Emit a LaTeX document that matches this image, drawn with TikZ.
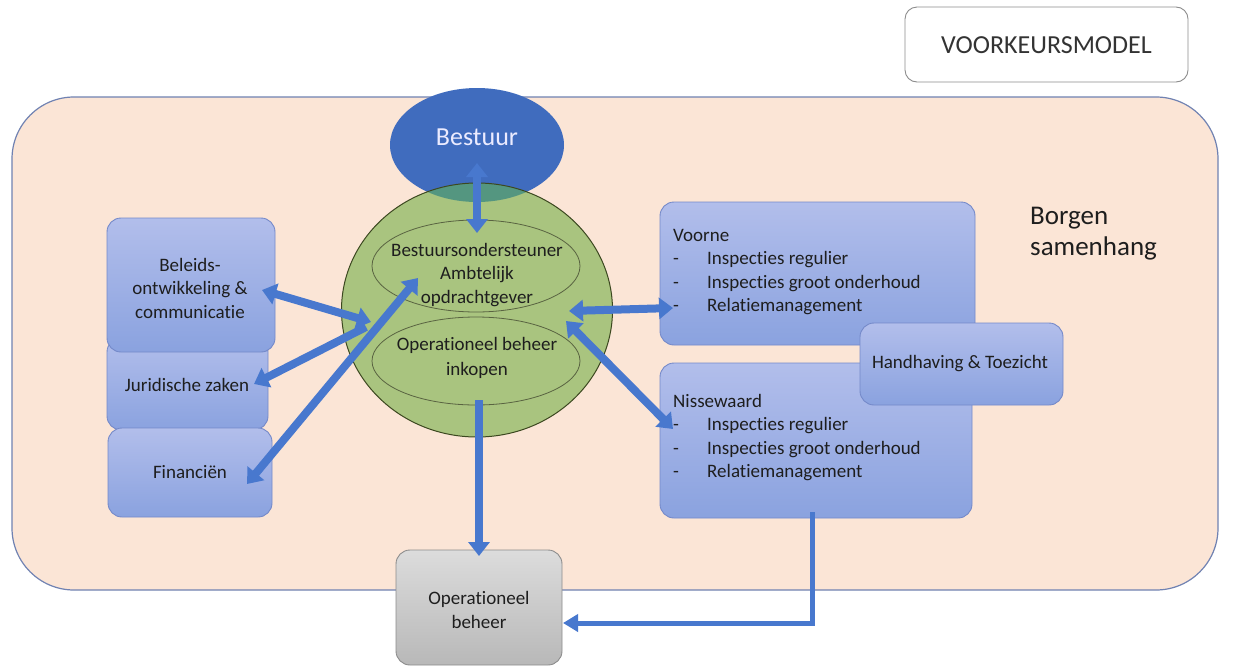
\documentclass[tikz,border=0pt]{standalone}
\usepackage{fontspec}
\setmainfont{Carlito}[Ligatures=NoCommon]
\usetikzlibrary{arrows.meta,shapes.geometric}
\definecolor{peach}{RGB}{251,229,214}
\definecolor{peachline}{RGB}{112,130,178}
\definecolor{ablue}{RGB}{72,120,206}
\definecolor{bestfill}{RGB}{64,108,190}
\definecolor{greenfill}{RGB}{169,196,127}
\definecolor{greenline}{RGB}{60,72,32}
\definecolor{lens}{RGB}{84,150,128}
\definecolor{boxtop}{RGB}{178,190,235}
\definecolor{boxbot}{RGB}{138,162,223}
\definecolor{boxline}{RGB}{116,137,201}
\definecolor{greytop}{RGB}{220,220,220}
\definecolor{greybot}{RGB}{184,184,184}
\definecolor{greyline}{RGB}{140,140,140}
\definecolor{txt}{RGB}{30,30,30}
\tikzset{
  bluebox/.style={draw=boxline, line width=0.9pt, rounded corners=14pt, top color=boxtop, bottom color=boxbot, inner sep=0pt},
  greybox/.style={draw=greyline, line width=0.9pt, rounded corners=14pt, top color=greytop, bottom color=greybot, inner sep=0pt},
  lbl/.style={text=txt, font=\fontsize{19}{23.5}\selectfont, align=center, inner sep=0pt},
  big/.style={text=txt, font=\fontsize{26}{31}\selectfont, inner sep=0pt},
  blk/.style={draw=ablue, line width=8pt, >={Triangle[length=14pt,width=21pt]}},
  thinblk/.style={draw=ablue, line width=5pt, >={Triangle[length=15pt,width=17pt]}},
}
\begin{document}
\begin{tikzpicture}[x=1pt,y=-1pt]
\useasboundingbox (0,0) rectangle (1233,667);
\fill[white] (0,0) rectangle (1233,667);
% outer peach panel
\node[draw=peachline, line width=1.2pt, fill=peach, rounded corners=62pt, minimum width=1206pt, minimum height=493pt, inner sep=0pt] (panel) at (615,343.5) {};
% title
\node[draw=greyline, line width=0.9pt, fill=white, rounded corners=12pt, minimum width=283pt, minimum height=75pt, inner sep=0pt] (title) at (1046.5,44.5) {};
\node[big, text=black!80] (titletxt) at (1046.5,45) {VOORKEURSMODEL};
% Bestuur and central circle
\node[ellipse, fill=bestfill, minimum width=174pt, minimum height=114pt, inner sep=0pt] (bestuur) at (477,145) {};
\node[ellipse, fill=greenfill, minimum width=271pt, minimum height=254pt, inner sep=0pt] (circ) at (477,310) {};
\begin{scope}
  \clip (477,145) ellipse [x radius=87pt, y radius=57pt];
  \fill[lens] (477,310) ellipse [x radius=135.5pt, y radius=127pt];
\end{scope}
\draw[greenline, line width=1pt] (477,310) ellipse [x radius=135.5pt, y radius=127pt];
\node[big, text=white!92!blue] (besttxt) at (477,137) {Bestuur};
\node[ellipse, draw=greenline!85, line width=0.8pt, minimum width=208pt, minimum height=92pt, inner sep=0pt] (e1) at (476,266) {};
\node[ellipse, draw=greenline!85, line width=0.8pt, minimum width=208pt, minimum height=88pt, inner sep=0pt] (e2) at (476,361) {};
\node[lbl] (e1txt) at (477,275) {Bestuursondersteuner\\Ambtelijk\\opdrachtgever};
\node[lbl, font=\fontsize{19}{25}\selectfont] (e2txt) at (477,358) {Operationeel beheer\\inkopen};
% left boxes
\node[bluebox, minimum width=161pt, minimum height=92pt] (jur) at (187.5,384) {};
\node[bluebox, minimum width=168pt, minimum height=134pt] (bel) at (191,285) {};
\node[bluebox, minimum width=164pt, minimum height=89pt] (fin) at (190,472.5) {};
\node[lbl] (beltxt) at (190,288) {Beleids-\\ontwikkeling \&\\communicatie};
\node[lbl] (jurtxt) at (187,385) {Juridische zaken};
\node[lbl] (fintxt) at (190,472) {Financiën};
% right boxes
\node[bluebox, minimum width=315pt, minimum height=143pt] (voorne) at (817.5,273.5) {};
\node[bluebox, minimum width=312pt, minimum height=155pt] (nisse) at (816,440.5) {};
\node[bluebox, minimum width=203pt, minimum height=82pt] (hand) at (961.5,364) {};
\node[lbl, align=left, anchor=north west] (voornetxt) at (673,229) {Voorne\\\makebox[34pt][l]{-}Inspecties regulier\\\makebox[34pt][l]{-}Inspecties groot onderhoud\\\makebox[34pt][l]{-}Relatiemanagement};
\node[lbl, align=left, anchor=north west] (nissetxt) at (673,394) {Nissewaard\\\makebox[34pt][l]{-}Inspecties regulier\\\makebox[34pt][l]{-}Inspecties groot onderhoud\\\makebox[34pt][l]{-}Relatiemanagement};
\node[lbl] (handtxt) at (960,364) {Handhaving \& Toezicht};
\node[big, font=\fontsize{27}{31}\selectfont, align=left, anchor=west] (borgen) at (1030,234) {Borgen\\samenhang};
% bottom grey box
\node[greybox, minimum width=166pt, minimum height=115pt] (opb) at (479,607.5) {};
\node[lbl] (opbtxt) at (479,610) {Operationeel\\beheer};
% arrow end points
\coordinate (a1s) at (477,163);
\coordinate (a1e) at (477,233);
\coordinate (belpt) at (262,290);
\coordinate (cl1) at (371,322);
\coordinate (cl2) at (366,327);
\coordinate (jurpt) at (254,384);
\coordinate (finpt) at (247,484);
\coordinate (e1pt) at (418,278);
\coordinate (cr1) at (569,311);
\coordinate (voornept) at (673,308);
\coordinate (cr2) at (566,321);
\coordinate (nissept) at (673,429);
\coordinate (e2b) at (479,400);
\coordinate (opbtop) at (479,556);
\coordinate (nissebot) at (812,512);
\coordinate (opbright) at (563,623);
% arrows
\draw[blk, <->] (a1s) -- (a1e);
\draw[blk, <->] (belpt) -- (cl1);
\draw[blk, ->] (cl2) -- (jurpt);
\draw[blk, <->] (finpt) -- (e1pt);
\draw[blk, <->] (cr1) -- (voornept);
\draw[blk, <->] (cr2) -- (nissept);
\draw[blk, ->] (e2b) -- (opbtop);
\draw[thinblk, ->] (nissebot) |- (opbright);
\end{tikzpicture}
\end{document}
